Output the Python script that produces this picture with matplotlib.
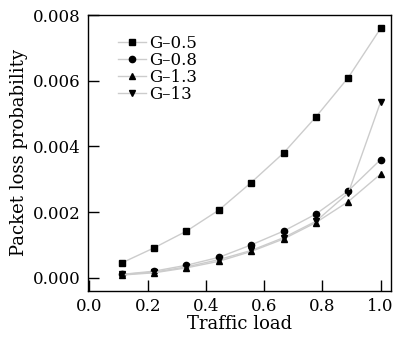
import matplotlib
matplotlib.use("Agg")
import matplotlib.pyplot as plt

# traffic load values (k/9)
load = [1/9, 2/9, 3/9, 4/9, 5/9, 6/9, 7/9, 8/9, 1.0]

g05 = [0.00045, 0.00091, 0.00142, 0.00206, 0.0029, 0.0038, 0.0049, 0.0061, 0.0076]
g08 = [0.00010, 0.00020, 0.00038, 0.00062, 0.00100, 0.00142, 0.00194, 0.00265, 0.0036]
g13 = [0.00008, 0.00015, 0.00030, 0.00050, 0.00080, 0.00118, 0.00168, 0.00232, 0.00316]
g130 = [0.00010, 0.00017, 0.00033, 0.00055, 0.00083, 0.00122, 0.00172, 0.00258, 0.00536]

labels = ["G\u20130.5", "G\u20130.8", "G\u20131.3", "G\u201313"]
markers = ["s", "o", "^", "v"]

plt.rcParams["font.family"] = ["DejaVu Serif"]
plt.rcParams["font.size"] = 12

fig = plt.figure(figsize=(3.96, 3.37), dpi=100)
ax = fig.add_axes([0.222, 0.137, 0.765, 0.818])

for y, lab, m in zip([g05, g08, g13, g130], labels, markers):
    ax.plot(load, y, color="#cccccc", lw=1.0, marker=m, markersize=4.5,
            markerfacecolor="black", markeredgecolor="black", label=lab)

ax.set_xlim(-0.005, 1.035)
ax.set_ylim(-0.0004, 0.008)
ax.set_xticks([0.0, 0.2, 0.4, 0.6, 0.8, 1.0])
ax.set_yticks([0.000, 0.002, 0.004, 0.006, 0.008])
ax.set_xticklabels(["0.0", "0.2", "0.4", "0.6", "0.8", "1.0"])
ax.set_yticklabels(["0.000", "0.002", "0.004", "0.006", "0.008"])
ax.tick_params(direction="in", length=8, width=1, labelsize=12, pad=5)
ax.set_xlabel("Traffic load", fontsize=13, labelpad=0)
ax.set_ylabel("Packet loss probability", fontsize=13, labelpad=4)
for s in ax.spines.values():
    s.set_linewidth(1.0)

ax.legend(loc="upper left", frameon=False, fontsize=12, handlelength=1.7,
          handletextpad=0.2, labelspacing=0.0, borderaxespad=0.3,
          bbox_to_anchor=(0.06, 0.97))

fig.savefig("out.png", dpi=100)
